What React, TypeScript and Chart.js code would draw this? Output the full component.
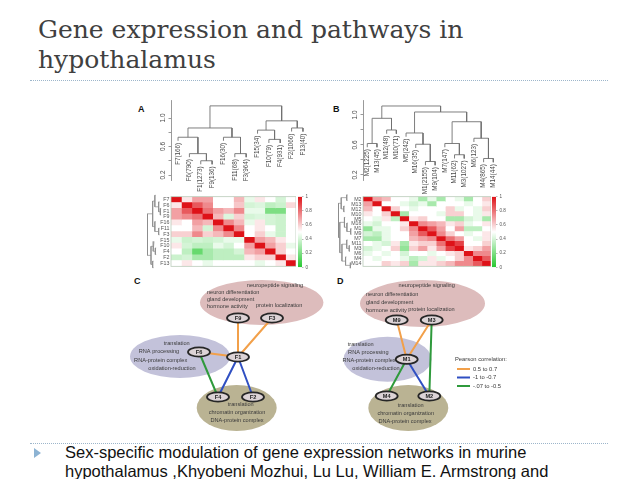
import React, { useEffect, useRef } from "react";
import { Chart, registerables } from "chart.js";

Chart.register(...registerables);
Chart.defaults.font.family = "Liberation Sans";

// ---------------- Panel A (F modules) ----------------
const leafLabelsA = ["F7(166)", "F6(790)", "F1(1273)", "F9(136)", "F16(30)", "F11(68)", "F3(964)", "F15(34)", "F10(79)", "F4(931)", "F2(1066)", "F13(40)"];
const rowLabelsA = ["F7", "F6", "F1", "F9", "F16", "F11", "F3", "F15", "F10", "F4", "F2", "F13"];
const leafHeightsA = [0.68, 0.45, 0.35, 0.35, 0.68, 0.45, 0.45, 0.78, 0.65, 0.65, 0.81, 0.81];
// [child, child, height]; leaves are 0..n-1, merge k creates node n+k
const mergesA: number[][] = [
  [2, 3, 0.4], [1, 12, 0.5], [0, 13, 0.73], [5, 6, 0.5], [4, 15, 0.73], [14, 16, 0.86],
  [8, 9, 0.7], [7, 18, 0.83], [10, 11, 0.86], [19, 20, 0.96], [17, 21, 1.17],
];
const corrA: number[][] = [
  [1, 0.55, 0.7, 0.7, 0.5, 0.5, 0.65, 0.45, 0.55, 0.5, 0.4, 0.5],
  [0.55, 1, 0.85, 0.75, 0.5, 0.5, 0.62, 0.4, 0.42, 0.35, 0.38, 0.58],
  [0.7, 0.85, 1, 0.8, 0.7, 0.65, 0.75, 0.45, 0.45, 0.2, 0.2, 0.5],
  [0.7, 0.75, 0.8, 1, 0.65, 0.42, 0.6, 0.4, 0.42, 0.4, 0.38, 0.5],
  [0.55, 0.5, 0.7, 0.65, 1, 0.75, 0.65, 0.45, 0.55, 0.4, 0.38, 0.5],
  [0.5, 0.5, 0.65, 0.4, 0.75, 1, 0.75, 0.5, 0.55, 0.5, 0.38, 0.5],
  [0.6, 0.6, 0.75, 0.6, 0.65, 0.75, 1, 0.5, 0.6, 0.45, 0.38, 0.5],
  [0.45, 0.38, 0.4, 0.38, 0.4, 0.45, 0.45, 1, 0.7, 0.65, 0.55, 0.5],
  [0.55, 0.4, 0.35, 0.35, 0.45, 0.4, 0.5, 0.7, 1, 0.7, 0.6, 0.45],
  [0.5, 0.35, 0.15, 0.3, 0.35, 0.35, 0.4, 0.65, 0.7, 1, 0.6, 0.5],
  [0.38, 0.4, 0.3, 0.3, 0.35, 0.35, 0.35, 0.55, 0.6, 0.6, 1, 0.55],
  [0.5, 0.55, 0.5, 0.45, 0.5, 0.5, 0.5, 0.5, 0.45, 0.5, 0.55, 1],
];

// ---------------- Panel B (M modules) ----------------
const leafLabelsB = ["M2(1225)", "M13(45)", "M12(48)", "M10(71)", "M5(242)", "M16(35)", "M1(2155)", "M9(104)", "M7(147)", "M11(62)", "M3(1027)", "M6(123)", "M4(865)", "M14(44)"];
const rowLabelsB = ["M2", "M13", "M12", "M10", "M5", "M16", "M1", "M9", "M7", "M11", "M3", "M6", "M4", "M14"];
const leafHeightsB = [0.57, 0.57, 0.75, 0.75, 0.71, 0.56, 0.33, 0.33, 0.57, 0.42, 0.42, 0.64, 0.37, 0.37];
const mergesB: number[][] = [
  [0, 1, 0.62], [2, 3, 0.8], [14, 15, 0.956], [6, 7, 0.38], [5, 17, 0.61], [4, 18, 0.76],
  [9, 10, 0.47], [8, 20, 0.62], [12, 13, 0.42], [11, 22, 0.69], [21, 23, 0.91], [19, 24, 1.04], [16, 25, 1.12],
];
const corrB: number[][] = [
  [1, 0.7, 0.65, 0.5, 0.5, 0.45, 0.3, 0.45, 0.3, 0.5, 0.45, 0.3, 0.5, 0.6],
  [0.7, 1, 0.5, 0.5, 0.45, 0.4, 0.45, 0.3, 0.5, 0.5, 0.5, 0.45, 0.5, 0.55],
  [0.65, 0.5, 1, 0.6, 0.5, 0.45, 0.5, 0.5, 0.5, 0.6, 0.45, 0.5, 0.45, 0.6],
  [0.55, 0.5, 0.6, 1, 0.3, 0.5, 0.5, 0.5, 0.45, 0.6, 0.6, 0.5, 0.45, 0.55],
  [0.5, 0.45, 0.55, 0.35, 1, 0.55, 0.6, 0.5, 0.5, 0.3, 0.3, 0.4, 0.45, 0.3],
  [0.45, 0.4, 0.5, 0.5, 0.55, 1, 0.75, 0.7, 0.65, 0.55, 0.6, 0.45, 0.5, 0.55],
  [0.25, 0.45, 0.45, 0.5, 0.6, 0.75, 1, 0.85, 0.7, 0.5, 0.7, 0.35, 0.35, 0.5],
  [0.4, 0.35, 0.45, 0.5, 0.5, 0.7, 0.85, 1, 0.75, 0.6, 0.5, 0.45, 0.5, 0.55],
  [0.3, 0.3, 0.45, 0.5, 0.5, 0.65, 0.7, 0.75, 1, 0.8, 0.7, 0.5, 0.45, 0.55],
  [0.5, 0.45, 0.4, 0.55, 0.3, 0.55, 0.6, 0.6, 0.8, 1, 0.9, 0.5, 0.5, 0.6],
  [0.4, 0.45, 0.5, 0.6, 0.25, 0.6, 0.7, 0.55, 0.7, 0.9, 1, 0.55, 0.6, 0.7],
  [0.45, 0.5, 0.45, 0.5, 0.4, 0.5, 0.5, 0.45, 0.5, 0.55, 0.6, 1, 0.75, 0.75],
  [0.5, 0.45, 0.5, 0.5, 0.45, 0.35, 0.4, 0.55, 0.45, 0.5, 0.6, 0.75, 1, 0.85],
  [0.5, 0.5, 0.6, 0.55, 0.6, 0.3, 0.55, 0.55, 0.6, 0.65, 0.75, 0.75, 0.85, 1],
];

const dendroTicks = [0.2, 0.4, 0.6, 0.8, 1.0];
const dendroTickLabels = ["0.2", "", "0.6", "", "1.0"];
const colorbarTicks = [0, 0.2, 0.4, 0.6, 0.8, 1];

// ---------------- Panels C / D (networks) ----------------
const nodesC = [
  { id: "F9", x: 108, y: 46 }, { id: "F3", x: 142, y: 46 }, { id: "F6", x: 69, y: 80 },
  { id: "F1", x: 108, y: 85 }, { id: "F4", x: 88, y: 125 }, { id: "F2", x: 123, y: 125 },
];
const edgesC: [string, string, number][] = [
  ["F9", "F1", 0], ["F3", "F1", 0], ["F6", "F1", 0], ["F1", "F4", 1], ["F1", "F2", 1], ["F6", "F4", 2],
];
const blobsC = [
  { x: 131.7, y: 30.5, rx: 61.7, ry: 22.5, kind: 0 },
  { x: 50, y: 84.5, rx: 50, ry: 21.5, kind: 1 },
  { x: 106.7, y: 136, rx: 40, ry: 23, kind: 2 },
];
const termsC = [
  { text: "neuropeptide signaling", x: 145, y: 13, anchor: "center" },
  { text: "neuron differentiation", x: 77, y: 20, anchor: "left" },
  { text: "gland development", x: 77, y: 27, anchor: "left" },
  { text: "hormone activity", x: 77, y: 34, anchor: "left" },
  { text: "protein localization", x: 126, y: 33, anchor: "left" },
  { text: "translation", x: 46.7, y: 71, anchor: "center" },
  { text: "RNA processing", x: 29, y: 79, anchor: "center" },
  { text: "RNA-protein complex", x: 30.7, y: 88, anchor: "center" },
  { text: "oxidation-reduction", x: 42, y: 96, anchor: "center" },
  { text: "translation", x: 110.7, y: 132, anchor: "center" },
  { text: "chromatin organization", x: 107, y: 140, anchor: "center" },
  { text: "DNA-protein complex", x: 107, y: 148.5, anchor: "center" },
];

const nodesD = [
  { id: "M9", x: 76.7, y: 48 }, { id: "M3", x: 111.7, y: 48 }, { id: "M1", x: 86.7, y: 87.3 },
  { id: "M4", x: 66.7, y: 124 }, { id: "M2", x: 109.3, y: 124 },
];
const edgesD: [string, string, number][] = [
  ["M9", "M1", 0], ["M3", "M1", 0], ["M3", "M2", 2], ["M1", "M4", 2], ["M1", "M2", 1],
];
const blobsD = [
  { x: 102.5, y: 31.5, rx: 62.5, ry: 23.5, kind: 0 },
  { x: 67.5, y: 87.2, rx: 44, ry: 22.5, kind: 1 },
  { x: 88.3, y: 136, rx: 40, ry: 23, kind: 2 },
];
const termsD = [
  { text: "neuropeptide signaling", x: 106.7, y: 13, anchor: "center" },
  { text: "neuron differentiation", x: 46, y: 22, anchor: "left" },
  { text: "gland development", x: 46, y: 30, anchor: "left" },
  { text: "hormone activity", x: 46, y: 38, anchor: "left" },
  { text: "protein localization", x: 88.3, y: 37, anchor: "left" },
  { text: "translation", x: 40.7, y: 72, anchor: "center" },
  { text: "RNA processing", x: 48.3, y: 80, anchor: "center" },
  { text: "RNA-protein complex", x: 49, y: 88, anchor: "center" },
  { text: "oxidation-reduction", x: 56, y: 96, anchor: "center" },
  { text: "translation", x: 90.7, y: 133.5, anchor: "center" },
  { text: "chromatin organization", x: 85.7, y: 141.5, anchor: "center" },
  { text: "DNA-protein complex", x: 85, y: 149.5, anchor: "center" },
];
const legendTitle = "Pearson correlation:";
const legendLabels = ["0.5 to 0.7", "-1 to -0.7", "-.07 to -0.5"];
const legendPos = { x: 135, y: 87, lineX0: 137, lineX1: 150, textX: 153, rows: [97, 105.5, 114] };

// ---------------- styles ----------------
const edgeColors = ["#f2a04a", "#2f4fc2", "#2f9a3c"];
const blobColors = ["#ddbcbc", "#c3c2da", "#bab393"];
const textColor = "#3a3a3a";

function corrColor(v: number): string {
  const lo = [38, 200, 48], mid = [255, 255, 255], hi = [222, 18, 24];
  const a = v < 0.5 ? lo : mid;
  const b = v < 0.5 ? mid : hi;
  const t = v < 0.5 ? v / 0.5 : (v - 0.5) / 0.5;
  const c = a.map((ai, i) => Math.round(ai + (b[i] - ai) * t));
  return `rgb(${c[0]},${c[1]},${c[2]})`;
}

function dendroSegments(n: number, leafH: number[], merges: number[][]) {
  const pos: number[] = [];
  const hgt: number[] = [];
  for (let i = 0; i < n; i++) { pos[i] = i; hgt[i] = leafH[i]; }
  const segs: ({ p: number; h: number } | null)[] = [];
  merges.forEach(([a, b, h], k) => {
    const id = n + k;
    pos[id] = (pos[a] + pos[b]) / 2;
    hgt[id] = h;
    segs.push({ p: pos[a], h: hgt[a] }, { p: pos[a], h }, { p: pos[b], h }, { p: pos[b], h: hgt[b] }, null);
  });
  return segs;
}

const baseOpts = {
  animation: false as const,
  responsive: false,
  devicePixelRatio: 1,
  events: [] as any[],
};
const noPlugins = { legend: { display: false }, tooltip: { enabled: false } };

function dendroConfig(labels: string[], leafH: number[], merges: number[][], xMin: number, xMax: number, yMin: number, yMax: number, axisW: number) {
  const segs = dendroSegments(labels.length, leafH, merges);
  const pts = segs.map((s) => (s ? { x: s.p, y: s.h } : { x: 0, y: null }));
  const labelPlugin = {
    id: "dendroLabels",
    afterDraw(chart: any) {
      const { ctx, scales } = chart;
      const xs = scales.x, ys = scales.y;
      ctx.save();
      ctx.fillStyle = "#4a4a4a";
      ctx.font = "6.3px 'Liberation Sans'";
      labels.forEach((lab, i) => {
        const px = xs.getPixelForValue(i);
        const py = ys.getPixelForValue(leafH[i]) + 2;
        ctx.save();
        ctx.translate(px, py);
        ctx.rotate(-Math.PI / 2);
        ctx.textAlign = "right";
        ctx.textBaseline = "middle";
        ctx.fillText(lab, 0, 0);
        ctx.restore();
      });
      ctx.font = "6.5px 'Liberation Sans'";
      dendroTicks.forEach((v, i) => {
        if (!dendroTickLabels[i]) return;
        const py = ys.getPixelForValue(v);
        ctx.save();
        ctx.translate(chart.chartArea.left - 8, py);
        ctx.rotate(-Math.PI / 2);
        ctx.textAlign = "center";
        ctx.textBaseline = "middle";
        ctx.fillText(dendroTickLabels[i], 0, 0);
        ctx.restore();
      });
      ctx.restore();
    },
  };
  return {
    type: "scatter",
    data: { datasets: [{ data: pts, showLine: true, borderColor: "#707070", borderWidth: 0.9, pointRadius: 0 }] },
    options: {
      ...baseOpts,
      layout: { padding: { top: 0, bottom: 16, left: 0, right: 0 } },
      plugins: noPlugins,
      scales: {
        x: { type: "linear", min: xMin, max: xMax, display: false },
        y: {
          type: "linear", min: yMin, max: yMax, position: "left",
          afterFit: (s: any) => { s.width = axisW; },
          afterBuildTicks: (s: any) => { s.ticks = dendroTicks.map((v) => ({ value: v })); },
          ticks: { display: false },
          grid: { drawOnChartArea: false, drawTicks: true, tickLength: 2.5, color: "#808080", lineWidth: 0.8 },
          border: { display: true, color: "#808080", width: 0.8 },
        },
      },
    },
    plugins: [labelPlugin],
  };
}

function rowTreeConfig(n: number, leafH: number[], merges: number[][], hMin: number, hMax: number) {
  const segs = dendroSegments(n, leafH, merges);
  const pts = segs.map((s) => (s ? { x: s.h, y: s.p } : { x: 0, y: null }));
  return {
    type: "scatter",
    data: { datasets: [{ data: pts, showLine: true, borderColor: "#8a8a8a", borderWidth: 0.7, pointRadius: 0 }] },
    options: {
      ...baseOpts,
      layout: { padding: 0 },
      plugins: noPlugins,
      scales: {
        x: { type: "linear", min: hMin, max: hMax, reverse: true, display: false },
        y: { type: "linear", min: -0.5, max: n - 0.5, reverse: true, display: false },
      },
    },
  };
}

function heatmapConfig(rows: string[], matrix: number[][], axisW: number) {
  const n = rows.length;
  const datasets = rows.map((_, j) => ({
    data: rows.map(() => 1),
    backgroundColor: rows.map((__, i) => corrColor(matrix[i][j])),
    borderWidth: 0,
    barPercentage: 1,
    categoryPercentage: 1,
  }));
  const frame = {
    id: "frame",
    afterDraw(chart: any) {
      const { ctx, chartArea: a } = chart;
      ctx.save();
      ctx.strokeStyle = "#b9cbb9";
      ctx.lineWidth = 0.8;
      ctx.strokeRect(a.left, a.top, a.right - a.left, a.bottom - a.top);
      ctx.restore();
    },
  };
  return {
    type: "bar",
    data: { labels: rows, datasets },
    options: {
      ...baseOpts,
      indexAxis: "y",
      layout: { padding: 0 },
      plugins: noPlugins,
      scales: {
        x: { stacked: true, min: 0, max: n, display: false },
        y: {
          stacked: true,
          afterFit: (s: any) => { s.width = axisW; },
          grid: { display: false, drawTicks: false },
          border: { display: false },
          ticks: { font: { size: 5.3 }, color: "#555", padding: 1.5, autoSkip: false },
        },
      },
    },
    plugins: [frame],
  };
}

function colorbarConfig() {
  return {
    type: "bar",
    data: {
      labels: [""],
      datasets: [{
        data: [1],
        borderWidth: 0,
        barPercentage: 1,
        categoryPercentage: 1,
        backgroundColor: (c: any) => {
          const area = c.chart.chartArea;
          if (!area) return corrColor(0.5);
          const g = c.chart.ctx.createLinearGradient(0, area.bottom, 0, area.top);
          for (let k = 0; k <= 10; k++) g.addColorStop(k / 10, corrColor(k / 10));
          return g;
        },
      }],
    },
    options: {
      ...baseOpts,
      layout: { padding: { top: 2, bottom: 2 } },
      plugins: noPlugins,
      scales: {
        x: { display: false },
        y: {
          position: "right", min: 0, max: 1,
          afterFit: (s: any) => { s.width = 16; },
          afterBuildTicks: (s: any) => { s.ticks = colorbarTicks.map((v) => ({ value: v })); },
          ticks: { font: { size: 4.6 }, color: "#555", padding: 2, callback: (v: any) => String(v) },
          grid: { drawOnChartArea: false, tickLength: 1.5, color: "#888", lineWidth: 0.6 },
          border: { display: false },
        },
      },
    },
  };
}

function networkConfig(nodes: any[], edges: [string, string, number][], blobs: any[], terms: any[], W: number, H: number, withLegend: boolean) {
  const byId: Record<string, any> = {};
  nodes.forEach((n) => (byId[n.id] = n));
  const datasets = edgeColors.map((col, k) => {
    const pts: any[] = [];
    edges.filter((e) => e[2] === k).forEach(([a, b]) => {
      pts.push({ x: byId[a].x, y: byId[a].y }, { x: byId[b].x, y: byId[b].y }, { x: 0, y: null });
    });
    return { data: pts, showLine: true, borderColor: col, borderWidth: 2, pointRadius: 0 };
  });
  const ell = (ctx: any, xs: any, ys: any, cx: number, cy: number, rx: number, ry: number) => {
    const px = xs.getPixelForValue(cx), py = ys.getPixelForValue(cy);
    const rpx = Math.abs(xs.getPixelForValue(cx + rx) - px);
    const rpy = Math.abs(ys.getPixelForValue(cy + ry) - py);
    ctx.beginPath();
    ctx.ellipse(px, py, rpx, rpy, 0, 0, Math.PI * 2);
  };
  const plugin = {
    id: "network",
    beforeDatasetsDraw(chart: any) {
      const { ctx, scales: { x, y } } = chart;
      ctx.save();
      blobs.forEach((b) => {
        ell(ctx, x, y, b.x, b.y, b.rx, b.ry);
        ctx.fillStyle = blobColors[b.kind];
        ctx.fill();
      });
      ctx.fillStyle = textColor;
      ctx.font = "5.6px 'Liberation Sans'";
      ctx.textBaseline = "middle";
      terms.forEach((t) => {
        ctx.textAlign = t.anchor;
        ctx.fillText(t.text, x.getPixelForValue(t.x), y.getPixelForValue(t.y));
      });
      ctx.restore();
    },
    afterDatasetsDraw(chart: any) {
      const { ctx, scales: { x, y } } = chart;
      ctx.save();
      nodes.forEach((n) => {
        ell(ctx, x, y, n.x, n.y, 11, 4.6);
        ctx.fillStyle = "#dcd3d6";
        ctx.fill();
        ctx.lineWidth = 1.8;
        ctx.strokeStyle = "#262626";
        ctx.stroke();
        ctx.fillStyle = "#222";
        ctx.font = "bold 5.6px 'Liberation Sans'";
        ctx.textAlign = "center";
        ctx.textBaseline = "middle";
        ctx.fillText(n.id, x.getPixelForValue(n.x), y.getPixelForValue(n.y) + 0.3);
      });
      if (withLegend) {
        ctx.fillStyle = textColor;
        ctx.font = "5.8px 'Liberation Sans'";
        ctx.textAlign = "left";
        ctx.textBaseline = "middle";
        ctx.fillText(legendTitle, x.getPixelForValue(legendPos.x), y.getPixelForValue(legendPos.y));
        legendLabels.forEach((lab, k) => {
          const py = y.getPixelForValue(legendPos.rows[k]);
          ctx.strokeStyle = edgeColors[k];
          ctx.lineWidth = 2;
          ctx.beginPath();
          ctx.moveTo(x.getPixelForValue(legendPos.lineX0), py);
          ctx.lineTo(x.getPixelForValue(legendPos.lineX1), py);
          ctx.stroke();
          ctx.fillText(lab, x.getPixelForValue(legendPos.textX), py);
        });
      }
      ctx.restore();
    },
  };
  return {
    type: "scatter",
    data: { datasets },
    options: {
      ...baseOpts,
      layout: { padding: 0 },
      plugins: noPlugins,
      scales: {
        x: { type: "linear", min: 0, max: W, display: false },
        y: { type: "linear", min: 0, max: H, reverse: true, display: false },
      },
    },
    plugins: [plugin],
  };
}

function ChartBox({ left, top, width, height, make }: { left: number; top: number; width: number; height: number; make: () => any }) {
  const ref = useRef<HTMLCanvasElement>(null);
  useEffect(() => {
    const chart = new Chart(ref.current as HTMLCanvasElement, make());
    return () => chart.destroy();
  }, []);
  return (
    <canvas
      ref={ref}
      width={width}
      height={height}
      style={{ position: "absolute", left, top, width, height }}
    />
  );
}

const panelLetter = (t: string, left: number, top: number) => (
  <div style={{ position: "absolute", left, top, font: "bold 9px 'Liberation Sans'", color: "#111" }}>{t}</div>
);

export default function App() {
  return (
    <div style={{ position: "absolute", left: 0, top: 0, width: 638, height: 479, background: "#fff", overflow: "hidden" }}>
      <div style={{ position: "absolute", left: 38, top: 15, fontFamily: "'DejaVu Serif'", fontSize: 25, lineHeight: "30px", color: "#404040", whiteSpace: "nowrap" }}>
        Gene expression and pathways in<br />hypothalamus
      </div>
      <div style={{ position: "absolute", left: 30, top: 80, width: 578, borderTop: "1px dotted #9db6cb" }} />

      {panelLetter("A", 138, 104)}
      {panelLetter("B", 333, 104)}
      {panelLetter("C", 134, 276)}
      {panelLetter("D", 337, 276)}

      <ChartBox left={140} top={100} width={170} height={96} make={() => dendroConfig(leafLabelsA, leafHeightsA, mergesA, -0.62, 11.62, 0.13, 1.2526, 31)} />
      <ChartBox left={332} top={100} width={168} height={96} make={() => dendroConfig(leafLabelsB, leafHeightsB, mergesB, -0.44, 13.69, 0.1333, 1.2, 31)} />

      <ChartBox left={147} top={192} width={15} height={79} make={() => rowTreeConfig(rowLabelsA.length, leafHeightsA, mergesA, 0.3, 1.2)} />
      <ChartBox left={158} top={192} width={138} height={79} make={() => heatmapConfig(rowLabelsA, corrA, 13)} />
      <ChartBox left={298} top={192} width={20} height={80} make={() => colorbarConfig()} />

      <ChartBox left={338} top={192} width={14} height={79} make={() => rowTreeConfig(rowLabelsB.length, leafHeightsB, mergesB, 0.3, 1.15)} />
      <ChartBox left={350} top={192} width={141} height={79} make={() => heatmapConfig(rowLabelsB, corrB, 13)} />
      <ChartBox left={492} top={192} width={20} height={80} make={() => colorbarConfig()} />

      <ChartBox left={130} top={272} width={200} height={170} make={() => networkConfig(nodesC, edgesC, blobsC, termsC, 200, 170, false)} />
      <ChartBox left={320} top={272} width={192} height={170} make={() => networkConfig(nodesD, edgesD, blobsD, termsD, 192, 170, true)} />

      <div style={{ position: "absolute", left: 30, top: 443, width: 578, borderTop: "1px dotted #9db6cb" }} />
      <div style={{ position: "absolute", left: 34, top: 448, width: 0, height: 0, borderTop: "5px solid transparent", borderBottom: "5px solid transparent", borderLeft: "7px solid #8db3d3" }} />
      <div style={{ position: "absolute", left: 65, top: 443, fontFamily: "'Liberation Sans'", fontSize: 16.5, lineHeight: "19px", color: "#111", whiteSpace: "nowrap" }}>
        Sex-specific modulation of gene expression networks in murine<br />hypothalamus ,Khyobeni Mozhui, Lu Lu, William E. Armstrong and
      </div>
    </div>
  );
}
